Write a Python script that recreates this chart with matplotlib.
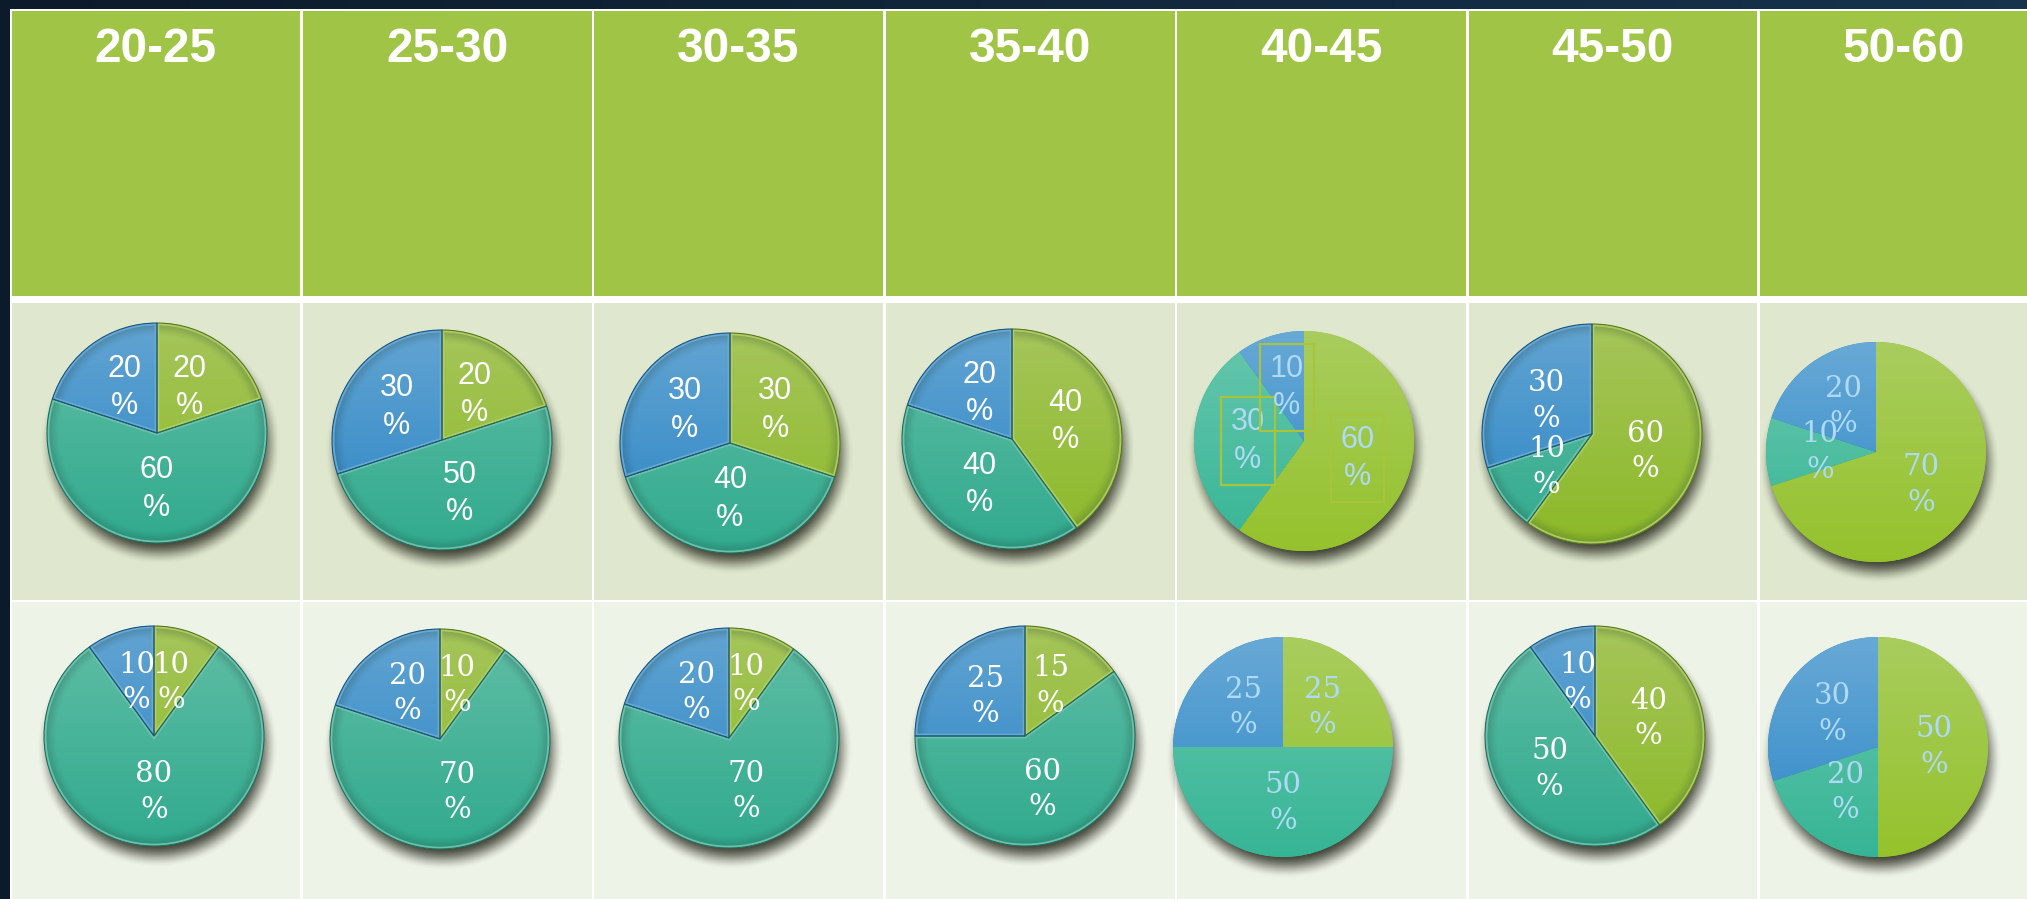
import numpy as np
import matplotlib
matplotlib.use('Agg')
import matplotlib.pyplot as plt
from matplotlib.patches import Rectangle, Circle, Wedge
import matplotlib.colors as mc

# ---------------- data ----------------
age_groups = ['20-25', '25-30', '30-35', '35-40', '40-45', '45-50', '50-60']
row1_green = [20, 20, 30, 40, 60, 60, 70]
row1_teal = [60, 50, 40, 40, 30, 10, 10]
row1_blue = [20, 30, 30, 20, 10, 30, 20]
row2_green = [10, 10, 10, 15, 25, 40, 50]
row2_teal = [80, 70, 70, 60, 50, 50, 20]
row2_blue = [10, 20, 20, 25, 25, 10, 30]

# ---------------- layout / style ----------------
W, H = 2027, 899
TX0, TY0 = 10, 9
COL_W = 291.4
HEADER_BOTTOM = 296
ROW1_TOP, ROW1_BOTTOM = 303, 600
ROW2_TOP = 602
PIE_R = 110
BOX_R = 140

row1_cx = [157, 442, 730, 1012, 1304, 1592, 1876]
row1_cy = [433, 440, 443, 439, 441, 434, 452]
row2_cx = [154, 440, 729, 1025, 1283, 1595, 1878]
row2_cy = [736, 739, 738, 736, 747, 736, 747]

# style flags per pie: (3d bevel, font family, boxed labels)
row1_style = [(True, 'sans', False), (True, 'sans', False), (True, 'sans', False),
              (True, 'sans', False), (False, 'sans', True), (True, 'slab', False),
              (False, 'slab', False)]
row2_style = [(True, 'slab', False), (True, 'slab', False), (True, 'slab', False),
              (True, 'slab', False), (False, 'slab', False), (True, 'slab', False),
              (False, 'slab', False)]

GREEN_TOP, GREEN_BOT = '#a5c55a', '#8cb928'
TEAL_TOP, TEAL_BOT = '#60bea5', '#31aa8e'
BLUE_TOP, BLUE_BOT = '#62a4d2', '#2a85c5'
HEADER_C = '#a0c546'
ROW1_C = '#dfe8ce'
ROW2_C = '#eef3e7'
BG_C = '#0e2134'

fig = plt.figure(figsize=(W / 100, H / 100), dpi=100)
fig.patch.set_facecolor(BG_C)

ax = fig.add_axes([0, 0, 1, 1])
ax.set_xlim(0, W)
ax.set_ylim(H, 0)
ax.axis('off')

# dark backdrop with a soft gradient
bg = np.linspace(0, 1, 64)[None, :, None]
c0 = np.array(mc.to_rgb('#0c1b2b'))
c1 = np.array(mc.to_rgb('#16324c'))
ax.imshow(c0 * (1 - bg) + c1 * bg, extent=(0, W, H, 0), aspect='auto', zorder=0)

# white table base (gives border/grid lines)
ax.add_patch(Rectangle((TX0, TY0), W - TX0 + 50, H - TY0 + 10, fc='white', ec='none', zorder=1))
for k in range(7):
    xl = TX0 + k * COL_W + 1.5
    xr = TX0 + (k + 1) * COL_W - 1.0
    ax.add_patch(Rectangle((xl, TY0 + 2), xr - xl, HEADER_BOTTOM - TY0 - 2, fc=HEADER_C, ec='none', zorder=2))
    ax.add_patch(Rectangle((xl, ROW1_TOP), xr - xl, ROW1_BOTTOM - ROW1_TOP, fc=ROW1_C, ec='none', zorder=2))
    ax.add_patch(Rectangle((xl, ROW2_TOP), xr - xl, H - ROW2_TOP + 5, fc=ROW2_C, ec='none', zorder=2))
    ax.text(TX0 + (k + 0.5) * COL_W, 50, age_groups[k], ha='center', va='center',
            fontsize=34.5, fontweight='bold', color='white', family=['Liberation Sans', 'DejaVu Sans'],
            zorder=3)


def vgrad(top, bot, n=256):
    t = np.linspace(0, 1, n)[:, None, None]
    a = np.array(mc.to_rgb(top))[None, None, :]
    b = np.array(mc.to_rgb(bot))[None, None, :]
    return a * (1 - t) + b * t


def smoothstep(e0, e1, x):
    t = np.clip((x - e0) / (e1 - e0), 0, 1)
    return t * t * (3 - 2 * t)


def mix(c, other, f):
    a = np.array(mc.to_rgb(c))
    b = np.array(mc.to_rgb(other))
    return tuple(a * (1 - f) + b * f)


s = BOX_R / PIE_R
n = 320
xs = np.linspace(-s, s, n)
X, Y = np.meshgrid(xs, xs)
D_sh = np.hypot(X - 0.03, Y + 0.1)
shadow = np.zeros((n, n, 4))
shadow[..., :3] = mc.to_rgb('#2e3024')
shadow[..., 3] = 0.9 * (1 - smoothstep(0.88, 1.10, D_sh))
D = np.hypot(X, Y)
rim = np.zeros((n, n, 4))
rim[..., :3] = mc.to_rgb('#1d3a30')
rim[..., 3] = 0.22 * smoothstep(0.88, 1.0, D)


def draw_pie(cx, cy, values, style):
    bevel, fam, boxed = style
    rect = [(cx - BOX_R) / W, (H - cy - BOX_R) / H, 2 * BOX_R / W, 2 * BOX_R / H]
    pax = fig.add_axes(rect)
    pax.axis('off')
    pax.patch.set_visible(False)
    family = ['Liberation Sans', 'DejaVu Sans'] if fam == 'sans' else ['DejaVu Serif']
    tcol = 'white' if bevel else '#aedaf6'
    grads = [(GREEN_TOP, GREEN_BOT), (TEAL_TOP, TEAL_BOT), (BLUE_TOP, BLUE_BOT)]
    if not bevel:
        grads = [('#a9cd5e', '#95c22c'), ('#68c7ad', '#36b595'), ('#68a9d6', '#2d88c7')]
    wedges, _, autotexts = pax.pie(
        values, colors=[g[1] for g in grads], startangle=90, counterclock=False,
        autopct=lambda p: f'{p:.0f}\n%', pctdistance=0.51, radius=1,
        wedgeprops=dict(linewidth=0),
        textprops=dict(color=tcol, fontsize=22 if fam == 'sans' else 21,
                       family=family, linespacing=1.33))
    pax.imshow(shadow, extent=(-s, s, -s, s), origin='lower', zorder=0.5, interpolation='bilinear')
    for w, (gt, gb) in zip(wedges, grads):
        im = pax.imshow(vgrad(gt, gb), extent=(-1, 1, -1, 1), origin='upper', aspect='auto',
                        interpolation='bilinear', zorder=1.5)
        im.set_clip_path(w)
        if bevel:
            light = mix(gb, 'white', 0.3)
            hl = Wedge(w.center, w.r, w.theta1, w.theta2, fill=False, ec=light, lw=3.4,
                       alpha=0.95, zorder=2)
            pax.add_patch(hl)
            hl.set_clip_path(w)
            dk = Wedge(w.center, w.r, w.theta1, w.theta2, fill=False,
                       ec=mix(gb, 'black', 0.35), lw=0.8, zorder=2.1)
            pax.add_patch(dk)
    if bevel:
        rim_im = pax.imshow(rim, extent=(-s, s, -s, s), origin='lower', zorder=1.8,
                            interpolation='bilinear')
        circ = Circle((0, 0), 1, transform=pax.transData, fc='none', ec='none')
        pax.add_patch(circ)
        rim_im.set_clip_path(circ)
    for t in autotexts:
        t.set_zorder(3)
        if boxed:
            t.set_bbox(dict(boxstyle='square,pad=0.32', fc='none', ec='#a8c43c', lw=1.6))
    pax.set_xlim(-s, s)
    pax.set_ylim(-s, s)
    pax.set_aspect('equal')


for k in range(7):
    draw_pie(row1_cx[k], row1_cy[k], [row1_green[k], row1_teal[k], row1_blue[k]], row1_style[k])
    draw_pie(row2_cx[k], row2_cy[k], [row2_green[k], row2_teal[k], row2_blue[k]], row2_style[k])

fig.savefig('out.png', dpi=100, facecolor=fig.get_facecolor())
